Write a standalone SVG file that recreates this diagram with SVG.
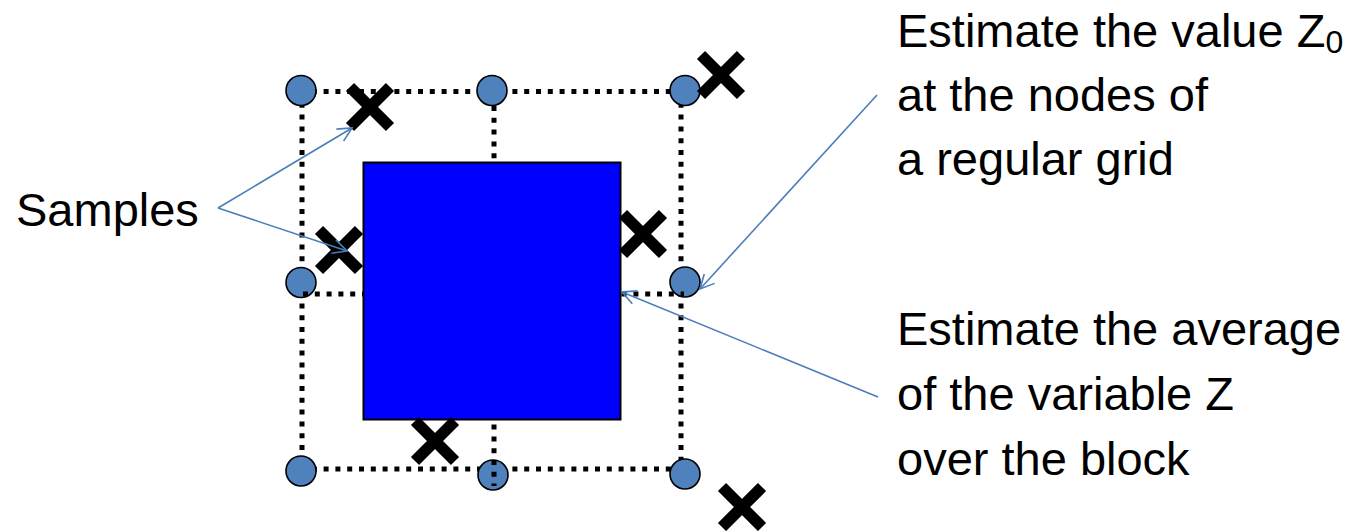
<svg xmlns="http://www.w3.org/2000/svg" width="1359" height="531" viewBox="0 0 1359 531">
<style>
.dot{stroke:#000;stroke-width:5;stroke-dasharray:5 6.8;fill:none}
.node{fill:#4f81bd;stroke:#000;stroke-width:1.6}
.x{stroke:#000;stroke-width:11.5;fill:none}
.lbl{font-family:"Liberation Sans",Arial,sans-serif;font-size:47px;fill:#000}
.conn{stroke:#4a7ebb;stroke-width:1.6;fill:none}
</style>
<defs>
<marker id="arr" markerUnits="userSpaceOnUse" markerWidth="30" markerHeight="30" refX="15" refY="15" orient="auto" overflow="visible">
<path d="M1,8 L15,15 L1,22" fill="none" stroke="#4a7ebb" stroke-width="1.6"/>
</marker>
</defs>
<rect width="1359" height="531" fill="#fff"/>
<g id="grid">
<line class="dot" x1="300" y1="91.5" x2="683" y2="91.5"/>
<line class="dot" x1="300" y1="469" x2="683" y2="469"/>
<line class="dot" x1="302" y1="91" x2="302" y2="470"/>
<line class="dot" x1="681" y1="91" x2="681" y2="470"/>
</g>
<g id="nodes">
<circle id="n1" class="node" cx="301" cy="90.5" r="15"/>
<circle id="n2" class="node" cx="492" cy="90.5" r="15"/>
<circle id="n3" class="node" cx="685" cy="90.5" r="15"/>
<circle id="n4" class="node" cx="301" cy="282.5" r="15"/>
<circle id="n5" class="node" cx="685" cy="282" r="15"/>
<circle id="n6" class="node" cx="301" cy="471" r="15"/>
<circle id="n7" class="node" cx="493" cy="475" r="15"/>
<circle id="n8" class="node" cx="685" cy="474" r="15"/>
</g>
<g id="grid-mid">
<line class="dot" x1="494" y1="106" x2="494" y2="486"/>
<line class="dot" x1="303" y1="294" x2="684" y2="294"/>
</g>
<g id="block">
<rect x="363.5" y="162.5" width="257" height="257" fill="#0000ff" stroke="#000" stroke-width="2"/>
</g>
<g id="samples">
<path class="x" d="M350,87 L390,127 M390,87 L350,127"/>
<path class="x" d="M701,55 L741,95 M741,55 L701,95"/>
<path class="x" d="M319,230 L359,270 M359,230 L319,270"/>
<path class="x" d="M623,214 L663,254 M663,214 L623,254"/>
<path class="x" d="M415,421 L455,461 M455,421 L415,461"/>
<path class="x" d="M722,487 L762,527 M762,487 L722,527"/>
</g>
<g id="connectors">
<line class="conn" x1="218" y1="208" x2="352" y2="128" marker-end="url(#arr)"/>
<line class="conn" x1="218" y1="208" x2="347" y2="251" marker-end="url(#arr)"/>
<line class="conn" x1="877" y1="95" x2="700" y2="289" marker-end="url(#arr)"/>
<line class="conn" x1="878" y1="397" x2="622" y2="292" marker-end="url(#arr)"/>
</g>
<g id="label-samples">
<text class="lbl" x="16" y="226" font-size="45.5">Samples</text>
</g>
<g id="label-grid">
<text class="lbl" x="897" y="47">Estimate the value Z<tspan font-size="32" dy="6">0</tspan></text>
<text class="lbl" x="897" y="111">at the nodes of</text>
<text class="lbl" x="897" y="175">a regular grid</text>
</g>
<g id="label-block">
<text class="lbl" x="897" y="345">Estimate the average</text>
<text class="lbl" x="897" y="410">of the variable Z</text>
<text class="lbl" x="897" y="475">over the block</text>
</g>
</svg>
